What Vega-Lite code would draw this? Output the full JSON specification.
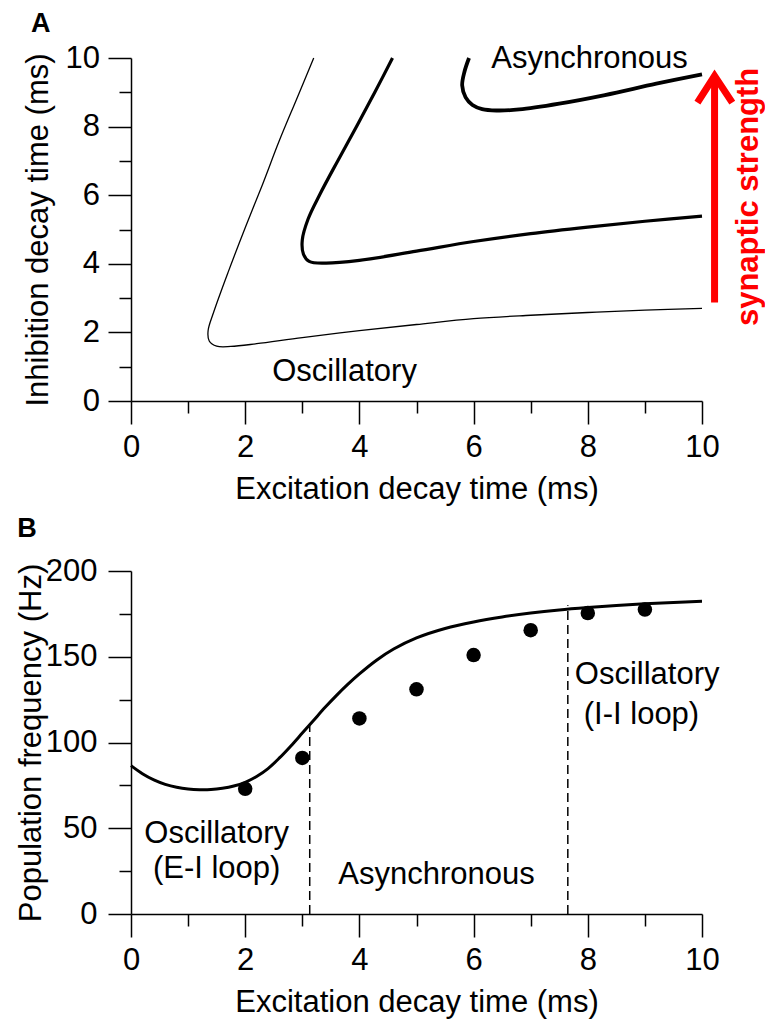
{
  "$schema": "https://vega.github.io/schema/vega-lite/v6.json",
  "background": "white",
  "padding": {"left": 15, "top": 10, "right": 5, "bottom": 5},
  "spacing": 10,
  "config": {
    "view": {"stroke": null},
    "axis": {
      "grid": false,
      "domainColor": "black",
      "domainWidth": 1.5,
      "tickColor": "black",
      "tickWidth": 1.5,
      "labelFont": "Liberation Sans",
      "labelFontSize": 31,
      "labelColor": "black",
      "labelPadding": 8.5,
      "labelOverlap": false,
      "labelFlush": false,
      "titleFont": "Liberation Sans",
      "titleFontSize": 31,
      "titleFontWeight": "normal",
      "titleColor": "black"
    },
    "axisX": {"titlePadding": 12},
    "title": {"font": "Liberation Sans", "fontSize": 27, "fontWeight": "bold", "color": "black", "anchor": "start", "frame": "bounds"}
  },
  "datasets": {
    "thin": [
      {"i": 0, "x": 3.2, "y": 10}, {"i": 1, "x": 2.9, "y": 8.8}, {"i": 2, "x": 2.6, "y": 7.6}, {"i": 3, "x": 2.3, "y": 6.3},
      {"i": 4, "x": 2.0, "y": 5.05}, {"i": 5, "x": 1.7, "y": 3.75}, {"i": 6, "x": 1.45, "y": 2.6}, {"i": 7, "x": 1.35, "y": 2.05},
      {"i": 8, "x": 1.37, "y": 1.75}, {"i": 9, "x": 1.5, "y": 1.6}, {"i": 10, "x": 1.75, "y": 1.59}, {"i": 11, "x": 2.2, "y": 1.67},
      {"i": 12, "x": 3.0, "y": 1.85}, {"i": 13, "x": 4.0, "y": 2.05}, {"i": 14, "x": 5.0, "y": 2.23}, {"i": 15, "x": 6.0, "y": 2.4},
      {"i": 16, "x": 7.0, "y": 2.5}, {"i": 17, "x": 8.0, "y": 2.58}, {"i": 18, "x": 9.0, "y": 2.65}, {"i": 19, "x": 10.0, "y": 2.7}
    ],
    "mid": [
      {"i": 0, "x": 4.58, "y": 10}, {"i": 1, "x": 4.27, "y": 9}, {"i": 2, "x": 3.95, "y": 8}, {"i": 3, "x": 3.62, "y": 7},
      {"i": 4, "x": 3.3, "y": 6}, {"i": 5, "x": 3.1, "y": 5.3}, {"i": 6, "x": 3.0, "y": 4.7}, {"i": 7, "x": 3.02, "y": 4.28},
      {"i": 8, "x": 3.12, "y": 4.07}, {"i": 9, "x": 3.4, "y": 4.02}, {"i": 10, "x": 4.0, "y": 4.1}, {"i": 11, "x": 5.0, "y": 4.37},
      {"i": 12, "x": 6.0, "y": 4.65}, {"i": 13, "x": 7.0, "y": 4.88}, {"i": 14, "x": 8.0, "y": 5.07}, {"i": 15, "x": 9.0, "y": 5.24},
      {"i": 16, "x": 10.0, "y": 5.39}
    ],
    "thick": [
      {"i": 0, "x": 5.92, "y": 10}, {"i": 1, "x": 5.84, "y": 9.6}, {"i": 2, "x": 5.8, "y": 9.2}, {"i": 3, "x": 5.86, "y": 8.85},
      {"i": 4, "x": 5.98, "y": 8.63}, {"i": 5, "x": 6.15, "y": 8.51}, {"i": 6, "x": 6.4, "y": 8.47}, {"i": 7, "x": 6.8, "y": 8.5},
      {"i": 8, "x": 7.5, "y": 8.67}, {"i": 9, "x": 8.3, "y": 8.92}, {"i": 10, "x": 9.2, "y": 9.25}, {"i": 11, "x": 10.0, "y": 9.52}
    ],
    "textA": [
      {"x": 8.03, "y": 9.71, "t": "Asynchronous"},
      {"x": 3.74, "y": 0.58, "t": "Oscillatory"}
    ],
    "arrowBody": [{"x": 10.22, "y": 2.87, "y2": 9.3}],
    "arrowHead": [
      {"i": 0, "x": 9.92, "y": 8.7}, {"i": 1, "x": 10.22, "y": 9.48}, {"i": 2, "x": 10.53, "y": 8.7}
    ],
    "redText": [{"x": 10.82, "y": 5.95, "t": "synaptic strength"}],
    "curveB": [
      {"x": 0, "y": 86.5}, {"x": 0.2, "y": 81.8}, {"x": 0.4, "y": 78.2}, {"x": 0.6, "y": 75.6}, {"x": 0.8, "y": 73.9},
      {"x": 1.0, "y": 72.9}, {"x": 1.2, "y": 72.5}, {"x": 1.4, "y": 72.6}, {"x": 1.6, "y": 73.3}, {"x": 1.8, "y": 74.6},
      {"x": 2.0, "y": 76.8}, {"x": 2.2, "y": 80.2}, {"x": 2.4, "y": 84.8}, {"x": 2.6, "y": 91}, {"x": 2.8, "y": 98},
      {"x": 3.0, "y": 105.5}, {"x": 3.2, "y": 113}, {"x": 3.4, "y": 120.5}, {"x": 3.6, "y": 127.5}, {"x": 3.8, "y": 134},
      {"x": 4.0, "y": 140}, {"x": 4.3, "y": 148}, {"x": 4.6, "y": 154.5}, {"x": 5.0, "y": 161}, {"x": 5.5, "y": 166.5},
      {"x": 6.0, "y": 170.3}, {"x": 6.5, "y": 173.2}, {"x": 7.0, "y": 175.5}, {"x": 7.5, "y": 177.3}, {"x": 8.0, "y": 178.7},
      {"x": 8.5, "y": 179.9}, {"x": 9.0, "y": 180.9}, {"x": 9.5, "y": 181.7}, {"x": 10, "y": 182.4}
    ],
    "dotsB": [
      {"x": 2, "y": 73}, {"x": 3, "y": 91}, {"x": 4, "y": 114}, {"x": 5, "y": 131},
      {"x": 6, "y": 151}, {"x": 7, "y": 165.5}, {"x": 8, "y": 175.5}, {"x": 9, "y": 177.5}
    ],
    "dashB": [{"x": 3.13, "y": 0, "y2": 110}, {"x": 7.65, "y": 0, "y2": 180}],
    "textB": [
      {"x": 1.5, "y": 41.2, "t": "Oscillatory"},
      {"x": 1.5, "y": 21, "t": "(E-I loop)"},
      {"x": 5.35, "y": 17.3, "t": "Asynchronous"},
      {"x": 9.04, "y": 134.2, "t": "Oscillatory"},
      {"x": 8.94, "y": 110.5, "t": "(I-I loop)"}
    ]
  },
  "vconcat": [
    {
      "width": 571,
      "height": 343,
      "title": {"text": "A", "dx": 9, "offset": 4},
      "encoding": {
        "x": {
          "field": "x", "type": "quantitative",
          "scale": {"domain": [0, 10], "nice": false, "zero": false},
          "axis": {
            "title": "Excitation decay time (ms)",
            "values": [0, 1, 2, 3, 4, 5, 6, 7, 8, 9, 10],
            "tickSize": {"condition": {"test": "datum.value % 2 === 0", "value": 23}, "value": 12},
            "labelExpr": "datum.value % 2 === 0 ? datum.label : ''"
          }
        },
        "y": {
          "field": "y", "type": "quantitative",
          "scale": {"domain": [0, 10], "nice": false, "zero": false},
          "axis": {
            "title": "Inhibition decay time (ms)",
            "titlePadding": 11,
            "values": [0, 1, 2, 3, 4, 5, 6, 7, 8, 9, 10],
            "tickSize": {"condition": {"test": "datum.value % 2 === 0", "value": 23}, "value": 12},
            "labelExpr": "datum.value % 2 === 0 ? datum.label : ''"
          }
        }
      },
      "layer": [
        {
          "data": {"name": "thin"},
          "mark": {"type": "line", "interpolate": "catmull-rom", "color": "black", "strokeWidth": 1.3},
          "encoding": {"order": {"field": "i", "type": "quantitative"}}
        },
        {
          "data": {"name": "mid"},
          "mark": {"type": "line", "interpolate": "catmull-rom", "color": "black", "strokeWidth": 3.2},
          "encoding": {"order": {"field": "i", "type": "quantitative"}}
        },
        {
          "data": {"name": "thick"},
          "mark": {"type": "line", "interpolate": "catmull-rom", "color": "black", "strokeWidth": 3.8},
          "encoding": {"order": {"field": "i", "type": "quantitative"}}
        },
        {
          "data": {"name": "textA"},
          "mark": {"type": "text", "font": "Liberation Sans", "fontSize": 31, "baseline": "alphabetic", "align": "center", "color": "black"},
          "encoding": {"text": {"field": "t"}}
        },
        {
          "data": {"name": "arrowBody"},
          "mark": {"type": "rule", "color": "#ff0000", "strokeWidth": 7},
          "encoding": {"y2": {"field": "y2"}}
        },
        {
          "data": {"name": "arrowHead"},
          "mark": {"type": "line", "color": "#ff0000", "strokeWidth": 7, "strokeJoin": "miter", "strokeCap": "butt"},
          "encoding": {"order": {"field": "i", "type": "quantitative"}}
        },
        {
          "data": {"name": "redText"},
          "mark": {"type": "text", "font": "Liberation Sans", "fontSize": 31, "fontWeight": "bold", "angle": 270, "baseline": "middle", "align": "center", "color": "#ff0000"},
          "encoding": {"text": {"field": "t"}}
        }
      ]
    },
    {
      "width": 571,
      "height": 343,
      "title": {"text": "B", "dx": 2, "offset": 12},
      "encoding": {
        "x": {
          "field": "x", "type": "quantitative",
          "scale": {"domain": [0, 10], "nice": false, "zero": false},
          "axis": {
            "title": "Excitation decay time (ms)",
            "values": [0, 1, 2, 3, 4, 5, 6, 7, 8, 9, 10],
            "tickSize": {"condition": {"test": "datum.value % 2 === 0", "value": 23}, "value": 12},
            "labelExpr": "datum.value % 2 === 0 ? datum.label : ''"
          }
        },
        "y": {
          "field": "y", "type": "quantitative",
          "scale": {"domain": [0, 200], "nice": false, "zero": false},
          "axis": {
            "title": "Population frequency (Hz)",
            "titlePadding": -2,
            "labelPadding": 11,
            "values": [0, 25, 50, 75, 100, 125, 150, 175, 200],
            "tickSize": {"condition": {"test": "datum.value % 50 === 0", "value": 23}, "value": 12},
            "labelExpr": "datum.value % 50 === 0 ? datum.label : ''"
          }
        }
      },
      "layer": [
        {
          "data": {"name": "dashB"},
          "mark": {"type": "rule", "color": "black", "strokeWidth": 1.5, "strokeDash": [9, 5]},
          "encoding": {"y2": {"field": "y2"}}
        },
        {
          "data": {"name": "curveB"},
          "mark": {"type": "line", "interpolate": "catmull-rom", "color": "black", "strokeWidth": 3}
        },
        {
          "data": {"name": "dotsB"},
          "mark": {"type": "point", "filled": true, "opacity": 1, "color": "black", "size": 210}
        },
        {
          "data": {"name": "textB"},
          "mark": {"type": "text", "font": "Liberation Sans", "fontSize": 31, "baseline": "alphabetic", "align": "center", "color": "black"},
          "encoding": {"text": {"field": "t"}}
        }
      ]
    }
  ]
}
